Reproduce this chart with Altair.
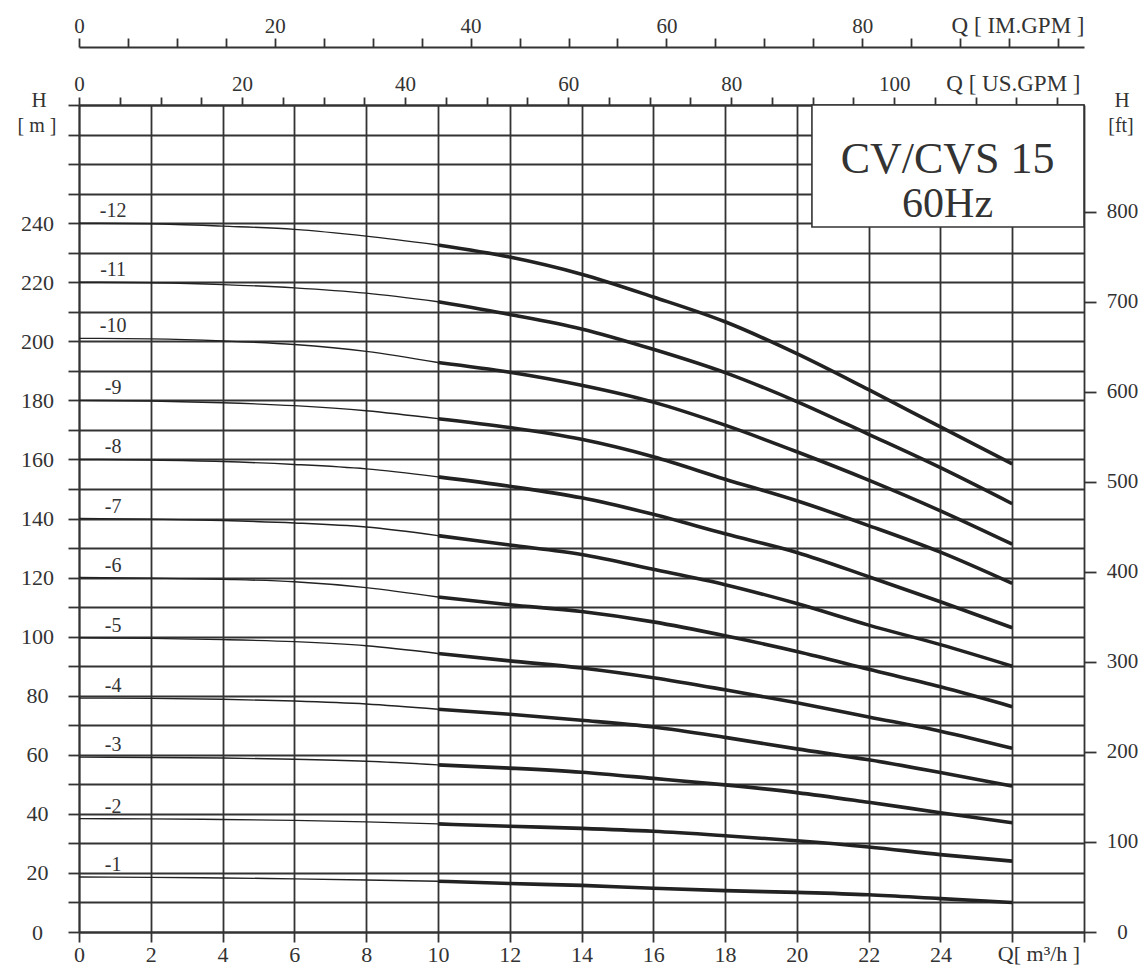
import altair as alt
import pandas as pd

# ---------------- data ----------------
Q = [0, 2, 4, 6, 8, 10, 12, 14, 16, 18, 20, 22, 24, 26]
STAGES = ["-12", "-11", "-10", "-9", "-8", "-7", "-6", "-5", "-4", "-3", "-2", "-1"]
H_12 = [240, 239.8, 239.0, 237.9, 235.6, 232.6, 228.5, 222.7, 215.0, 206.6, 195.8, 183.6, 171.0, 158.5]
H_11 = [220, 219.8, 219.2, 218.1, 216.3, 213.4, 209.1, 204.2, 197.3, 189.4, 179.6, 168.5, 157.2, 145.0]
H_10 = [201, 200.8, 200.1, 198.9, 196.6, 192.8, 189.5, 185.1, 179.4, 171.6, 162.6, 153.0, 142.6, 131.3]
H_9 = [180, 179.8, 179.2, 178.2, 176.5, 173.8, 170.8, 166.8, 160.9, 153.3, 146.0, 137.6, 128.6, 118.0]
H_8 = [160, 159.8, 159.3, 158.3, 156.8, 154.1, 150.9, 147.0, 141.4, 134.8, 128.5, 120.3, 111.8, 103.0]
H_7 = [140, 139.8, 139.3, 138.5, 137.1, 134.2, 131.0, 127.8, 122.8, 117.6, 111.2, 103.9, 97.3, 90.0]
H_6 = [120, 119.8, 119.4, 118.6, 116.6, 113.4, 110.8, 108.5, 105.0, 100.3, 95.0, 89.0, 83.0, 76.3]
H_5 = [99.6, 99.4, 99.0, 98.3, 96.9, 94.3, 91.8, 89.4, 86.1, 82.0, 77.6, 72.8, 68.0, 62.2]
H_4 = [79.2, 79.1, 78.8, 78.2, 77.2, 75.4, 73.7, 71.7, 69.4, 65.9, 62.0, 58.3, 54.0, 49.4]
H_3 = [59.2, 59.1, 58.9, 58.5, 57.8, 56.6, 55.5, 54.1, 52.0, 49.8, 47.2, 43.9, 40.4, 37.0]
H_2 = [38.4, 38.3, 38.1, 37.8, 37.3, 36.6, 35.8, 35.1, 34.1, 32.6, 30.9, 28.8, 26.2, 24.0]
H_1 = [18.6, 18.5, 18.3, 18.0, 17.6, 17.2, 16.4, 15.8, 14.8, 14.0, 13.4, 12.6, 11.3, 10.0]
CURVES = [H_12, H_11, H_10, H_9, H_8, H_7, H_6, H_5, H_4, H_3, H_2, H_1]
THICK_FROM = 10          # operating range drawn thick from this flow on

Q_TICKS = list(range(0, 29, 2))
H_TICKS = list(range(0, 281, 10))
US_TICKS = list(range(0, 121, 5))
IM_TICKS = list(range(0, 101, 5))
FT_TICKS = list(range(0, 801, 100))

TITLE_LINES = ["CV/CVS 15", "60Hz"]
LABEL_Q = 0.95

# unit conversions
US_PER_M3H = 4.40287
IM_PER_M3H = 3.66614
FT_PER_M = 3.28084

Q_MAX, H_MAX = 28, 280

# ---------------- tables ----------------
rows = []
for st, hs in zip(STAGES, CURVES):
    for q, h in zip(Q, hs):
        if q <= THICK_FROM:
            rows.append({"stage": st, "Q": q, "H": h, "part": "thin"})
        if q >= THICK_FROM:
            rows.append({"stage": st, "Q": q, "H": h, "part": "thick"})
df = pd.DataFrame(rows)
lab = pd.DataFrame({"stage": STAGES, "Q": [LABEL_Q] * len(STAGES), "H": [c[0] for c in CURVES]})
box = pd.DataFrame({"q1": [20.42], "q2": [28], "h1": [238.7], "h2": [280]})
ttl = pd.DataFrame({"t": TITLE_LINES, "Q": [24.2, 24.2], "H": [257.0, 242.0], "fs": [44, 42]})

SERIF = "Liberation Serif"
INK = "#333333"
LW = 1.8

xs = alt.Scale(domain=[0, Q_MAX], nice=False, zero=False)
ys = alt.Scale(domain=[0, H_MAX], nice=False, zero=False)

x_axis = alt.Axis(values=Q_TICKS, labelExpr="datum.value <= 24 ? datum.value : ''",
                  grid=True, gridColor=INK, gridWidth=LW, gridOpacity=1,
                  tickSize=10, tickColor=INK, tickWidth=LW, domainColor=INK, domainWidth=LW,
                  labelPadding=2, labelFont=SERIF, labelFontSize=22, labelColor=INK,
                  labelFlush=False, labelOverlap=False, title=None)
y_axis = alt.Axis(values=H_TICKS,
                  labelExpr="(datum.value % 20 == 0 && datum.value <= 240) ? datum.value : ''",
                  grid=True, gridColor=INK, gridWidth=LW, gridOpacity=1,
                  tickSize=11, tickColor=INK, tickWidth=LW, domainColor=INK, domainWidth=LW,
                  labelPadding=31, labelAlign="center", labelBaseline="middle",
                  labelFont=SERIF, labelFontSize=22, labelColor=INK,
                  labelFlush=False, labelOverlap=False, title=None)

X = lambda f: alt.X(f, type="quantitative", scale=xs, axis=x_axis)
Y = lambda f: alt.Y(f, type="quantitative", scale=ys, axis=y_axis)

thin = alt.Chart(df).transform_filter("datum.part == 'thin'").mark_line(
    color="#222", strokeWidth=1.4, interpolate="monotone").encode(
    x=X("Q"), y=Y("H"), detail="stage:N")
thick = alt.Chart(df).transform_filter("datum.part == 'thick'").mark_line(
    color="#222", strokeWidth=3.6, interpolate="monotone").encode(
    x=X("Q"), y=Y("H"), detail="stage:N")
labels = alt.Chart(lab).mark_text(font=SERIF, fontSize=20, color=INK, align="center",
                                  baseline="alphabetic", dy=-6).encode(
    x=X("Q"), y=Y("H"), text="stage:N")
boxm = alt.Chart(box).mark_rect(fill="white", stroke=INK, strokeWidth=1.6).encode(
    x=X("q1"), x2="q2", y=Y("h1"), y2="h2")
boxt = alt.Chart(ttl).mark_text(font=SERIF, color=INK, align="center", baseline="alphabetic").encode(
    x=X("Q"), y=Y("H"), text="t:N", size=alt.Size("fs:Q", scale=None, legend=None))

ann = pd.DataFrame({"t": ["H", "[ m ]", "H", "[ft]", "Q[ m³/h ]"],
                    "px": [-40, -42, 1043, 1042, 960],
                    "py": [2, 27, 2, 27, 856],
                    "fs": [21, 20, 21, 20, 22]})
annm = alt.Chart(ann).mark_text(font=SERIF, color=INK, align="center",
                                baseline="alphabetic").encode(
    x=alt.X("px:Q", scale=None), y=alt.Y("py:Q", scale=None), text="t:N",
    size=alt.Size("fs:Q", scale=None, legend=None))

inner = alt.layer(thin, thick, labels, boxm, boxt)

us = alt.Chart(pd.DataFrame({"v": US_TICKS})).mark_rule(opacity=0).encode(
    x=alt.X("v:Q", scale=alt.Scale(domain=[0, Q_MAX * US_PER_M3H], nice=False, zero=False),
            axis=alt.Axis(orient="top", values=US_TICKS,
                          labelExpr="(datum.value % 20 == 0 && datum.value <= 100) ? datum.value : ''",
                          tickSize=8, tickColor=INK, tickWidth=LW, domainColor=INK, domainWidth=2,
                          labelPadding=3, labelFont=SERIF, labelFontSize=21, labelColor=INK,
                          labelFlush=False, labelOverlap=False, grid=False,
                          title="Q [ US.GPM ]", titleFont=SERIF, titleFontSize=23,
                          titleFontWeight="normal", titleColor=INK, titleAlign="right",
                          titleBaseline="alphabetic", titleX=1001, titleY=-15, titleAngle=0)))
im = alt.Chart(pd.DataFrame({"v": IM_TICKS})).mark_rule(opacity=0).encode(
    x=alt.X("v:Q", scale=alt.Scale(domain=[0, Q_MAX * IM_PER_M3H], nice=False, zero=False),
            axis=alt.Axis(orient="top", offset=58, values=IM_TICKS,
                          labelExpr="(datum.value % 20 == 0 && datum.value <= 80) ? datum.value : ''",
                          tickSize=9, tickColor=INK, tickWidth=LW, domainColor=INK, domainWidth=2,
                          labelPadding=2, labelFont=SERIF, labelFontSize=21, labelColor=INK,
                          labelFlush=False, labelOverlap=False, grid=False,
                          title="Q [ IM.GPM ]", titleFont=SERIF, titleFontSize=23,
                          titleFontWeight="normal", titleColor=INK, titleAlign="right",
                          titleBaseline="alphabetic", titleX=1005, titleY=-15, titleAngle=0)))
ft = alt.Chart(pd.DataFrame({"v": FT_TICKS})).mark_rule(opacity=0).encode(
    y=alt.Y("v:Q", scale=alt.Scale(domain=[0, H_MAX * FT_PER_M], nice=False, zero=False),
            axis=alt.Axis(orient="right", values=FT_TICKS, tickSize=12, tickColor=INK,
                          tickWidth=LW, domain=False, labelPadding=26, labelAlign="center",
                          labelBaseline="middle", labelFont=SERIF, labelFontSize=21,
                          labelColor=INK, labelFlush=False, labelOverlap=False, grid=False,
                          title=None)))

chart = alt.layer(inner, us, im, ft, annm).resolve_scale(
    x="independent", y="independent").properties(
    width=1005, height=827, autosize="none",
    padding={"left": 71, "top": 97, "right": 54, "bottom": 36},
).configure_view(strokeWidth=0).configure(background="white")

chart.save("out.html", embed_options={"renderer": "svg", "actions": False})
